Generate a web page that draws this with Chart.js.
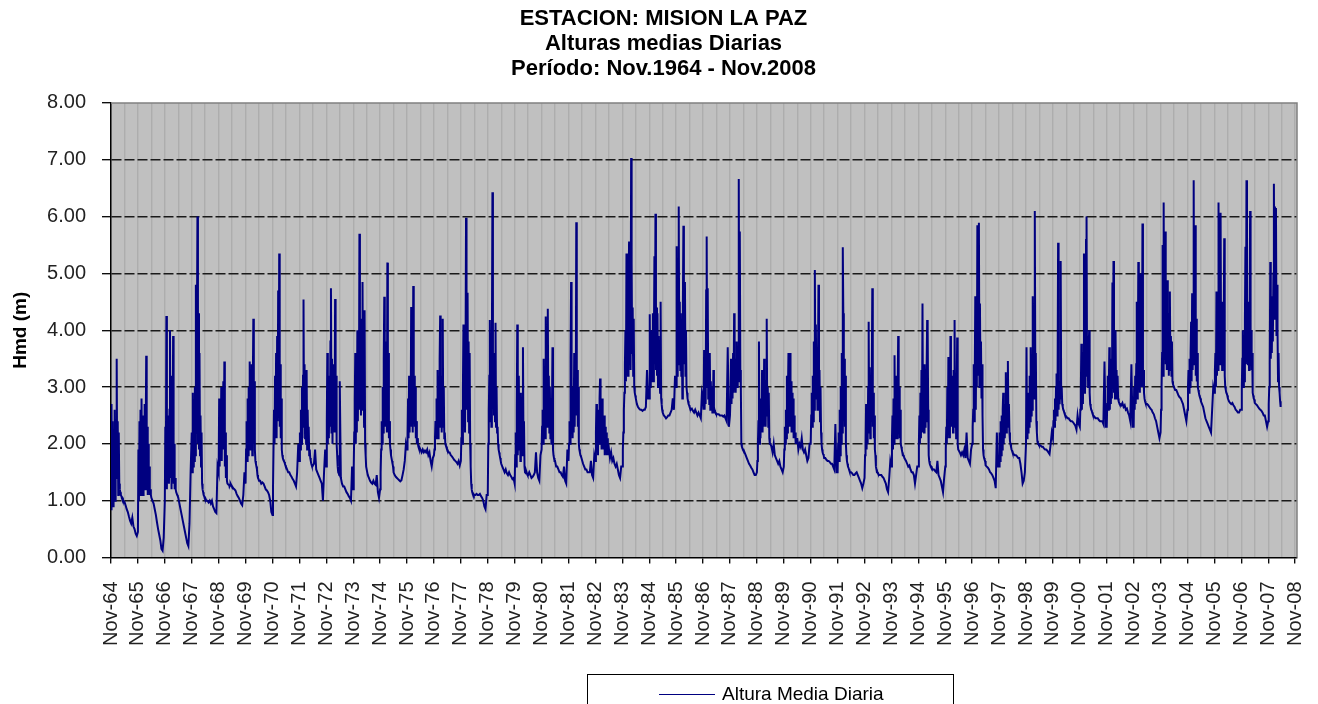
<!DOCTYPE html>
<html>
<head>
<meta charset="utf-8">
<title>Misión La Paz - Alturas medias diarias</title>
<script src="https://cdn.jsdelivr.net/npm/chart.js@4/dist/chart.umd.min.js"></script>
<style>
  html, body { margin: 0; padding: 0; background: #fff; }
  canvas { display: block; }
</style>
</head>
<body>
<canvas id="chart" width="1318" height="704"></canvas>
<script>
// Mean stage (m) at Misión La Paz, one array per hydrological year (from 1 November).
// The first 26 values are weekly readings for the flood season (Nov-Apr),
// the remaining 12 are half-monthly readings for the dry season (May-Oct).
const y1964 = [0.85, 2.7, 1.1, 2.4, 0.9, 2.2, 1.3, 2.6, 1.0, 2.0, 1.5, 3.5, 1.4, 2.4, 1.1, 2.2, 1.3, 1.2, 1.15, 1.1, 1.08, 1.05, 1.05, 1.02, 1.0, 0.99,
               0.98, 0.92, 0.85, 0.8, 0.72, 0.65, 0.6, 0.7, 0.55, 0.5, 0.42, 0.38];
const y1965 = [0.45, 1.9, 1.0, 2.4, 1.2, 2.6, 1.1, 2.8, 1.3, 2.2, 1.1, 2.5, 1.4, 2.7, 1.2, 2.0, 3.55, 1.3, 2.3, 1.1, 2.0, 1.2, 1.6, 1.1, 1.2, 1.1,
               1.05, 1.0, 0.95, 0.85, 0.75, 0.62, 0.5, 0.4, 0.3, 0.15, 0.12, 0.35];
const y1966 = [1.0, 2.3, 1.4, 4.25, 1.2, 2.5, 1.5, 2.2, 1.3, 2.6, 4.0, 1.4, 2.4, 1.2, 3.2, 1.5, 3.9, 1.3, 2.0, 1.2, 1.4, 1.2, 1.15, 1.15, 1.1, 1.08,
               1.05, 0.95, 0.85, 0.75, 0.65, 0.55, 0.45, 0.35, 0.25, 0.2, 0.6, 1.5];
const y1967 = [2.2, 1.5, 2.9, 1.6, 2.7, 1.7, 3.0, 1.8, 4.8, 2.2, 4.0, 6.0, 2.0, 4.3, 1.9, 3.6, 1.8, 2.5, 1.6, 2.2, 1.3, 1.2, 1.15, 1.1, 1.08, 1.05,
               1.05, 1.0, 1.0, 0.97, 1.0, 0.95, 1.0, 0.9, 0.85, 0.8, 0.78, 1.6];
const y1968 = [1.5, 2.8, 1.6, 2.5, 1.8, 3.0, 1.7, 2.6, 2.0, 3.1, 1.9, 3.45, 1.6, 2.2, 1.4, 1.8, 1.35, 1.3, 1.3, 1.28, 1.3, 1.25, 1.27, 1.3, 1.28, 1.26,
               1.25, 1.22, 1.2, 1.18, 1.12, 1.08, 1.05, 1.0, 0.95, 0.92, 1.1, 1.5];
const y1969 = [1.3, 1.9, 2.4, 1.7, 2.8, 1.8, 3.0, 2.0, 3.45, 1.9, 2.8, 2.1, 3.4, 1.8, 3.0, 4.2, 2.2, 3.1, 1.9, 1.7, 1.65, 1.6, 1.55, 1.45, 1.4, 1.38,
               1.35, 1.35, 1.3, 1.32, 1.3, 1.25, 1.2, 1.18, 1.15, 1.1, 1.0, 0.8];
const y1970 = [0.75, 1.2, 1.9, 2.6, 2.0, 3.2, 2.2, 3.6, 2.1, 3.9, 2.4, 4.7, 2.6, 5.35, 2.3, 3.4, 2.1, 2.8, 1.9, 1.8, 1.75, 1.72, 1.7, 1.68, 1.65, 1.62,
               1.6, 1.55, 1.5, 1.5, 1.45, 1.42, 1.38, 1.35, 1.3, 1.25, 1.5, 2.0];
const y1971 = [1.7, 2.2, 1.9, 2.6, 2.0, 3.0, 2.1, 3.2, 4.54, 2.3, 3.4, 2.1, 2.9, 2.0, 3.3, 1.9, 2.6, 2.0, 2.3, 1.8, 1.9, 1.75, 1.7, 1.65, 1.62, 1.6,
               1.6, 1.65, 1.9, 1.55, 1.5, 1.45, 1.4, 1.35, 1.3, 1.0, 1.5, 1.9];
const y1972 = [1.6, 2.4, 3.6, 2.0, 3.2, 2.1, 3.0, 2.3, 3.8, 4.74, 2.2, 3.5, 2.0, 3.4, 2.3, 3.0, 2.2, 4.55, 2.4, 3.2, 2.0, 1.8, 1.6, 1.5, 1.48, 1.45,
               3.1, 1.4, 1.3, 1.25, 1.25, 1.2, 1.15, 1.12, 1.08, 1.05, 1.0, 1.6];
const y1973 = [1.2, 1.6, 2.2, 2.8, 3.6, 2.0, 3.3, 2.2, 4.0, 2.4, 3.5, 2.6, 5.7, 3.0, 4.2, 2.5, 3.6, 2.8, 4.85, 2.6, 3.4, 2.3, 4.35, 2.0, 1.8, 1.6,
               1.6, 1.45, 1.4, 1.35, 1.32, 1.3, 1.35, 1.3, 1.28, 1.45, 1.15, 1.05];
const y1974 = [1.2, 1.5, 1.9, 2.4, 2.0, 3.0, 2.2, 3.5, 4.59, 2.3, 3.8, 2.4, 3.4, 2.2, 5.19, 2.6, 3.6, 2.1, 2.4, 2.0, 1.9, 1.8, 1.75, 1.7, 1.65, 1.6,
               1.5, 1.45, 1.42, 1.4, 1.38, 1.36, 1.34, 1.36, 1.45, 1.55, 1.7, 2.0];
const y1975 = [1.9, 2.1, 2.8, 2.1, 3.2, 2.2, 3.0, 2.4, 4.41, 2.3, 3.5, 2.2, 4.78, 2.5, 3.2, 2.3, 3.0, 2.1, 2.4, 2.0, 2.1, 2.0, 1.95, 1.92, 1.9, 1.92,
               1.9, 1.85, 1.9, 1.85, 1.88, 1.85, 1.9, 1.8, 1.85, 1.7, 1.6, 1.75];
const y1976 = [1.8, 1.9, 2.1, 2.4, 2.1, 2.8, 2.2, 3.3, 2.1, 3.0, 2.3, 3.5, 4.26, 2.4, 3.2, 2.2, 2.8, 4.2, 2.3, 3.0, 2.1, 2.2, 2.0, 1.97, 1.95, 1.92,
               1.9, 1.85, 1.85, 1.8, 1.78, 1.75, 1.72, 1.7, 1.68, 1.65, 1.7, 1.62];
const y1977 = [1.7, 2.1, 2.6, 2.0, 3.0, 4.1, 2.3, 3.6, 2.2, 3.3, 5.98, 2.6, 3.5, 4.66, 2.4, 3.8, 2.2, 3.6, 2.0, 1.6, 1.3, 1.2, 1.15, 1.12, 1.12, 1.1,
               1.1, 1.1, 1.12, 1.1, 1.1, 1.12, 1.08, 1.05, 1.0, 0.9, 0.85, 1.1];
const y1978 = [1.1, 2.0, 2.6, 3.2, 4.18, 2.4, 3.5, 2.3, 3.8, 6.43, 3.0, 3.6, 2.5, 3.4, 2.4, 4.13, 2.3, 3.0, 2.2, 2.3, 2.0, 1.9, 1.85, 1.8, 1.75, 1.7,
               1.65, 1.6, 1.55, 1.5, 1.55, 1.48, 1.45, 1.5, 1.45, 1.42, 1.38, 1.4];
const y1979 = [1.3, 1.8, 2.2, 1.6, 2.6, 4.1, 1.8, 2.5, 3.2, 1.9, 2.8, 1.7, 2.9, 1.9, 2.6, 1.8, 3.7, 2.0, 2.4, 1.6, 1.5, 1.5, 1.48, 1.5, 1.47, 1.45,
               1.45, 1.5, 1.45, 1.4, 1.42, 1.45, 1.5, 1.85, 1.5, 1.4, 1.35, 1.8];
const y1980 = [1.9, 2.3, 2.6, 2.0, 3.5, 2.2, 3.0, 2.1, 4.24, 2.5, 3.4, 2.3, 4.38, 2.5, 3.2, 2.2, 3.0, 2.1, 2.8, 2.0, 2.6, 3.7, 1.9, 1.8, 1.75, 1.7,
               1.7, 1.6, 1.6, 1.55, 1.5, 1.5, 1.45, 1.42, 1.6, 1.35, 1.3, 1.9];
const y1981 = [1.7, 2.0, 2.4, 2.0, 3.5, 4.85, 2.2, 3.0, 2.1, 2.8, 2.2, 3.6, 2.3, 3.2, 2.5, 5.9, 2.6, 3.3, 2.3, 3.0, 2.0, 1.9, 1.85, 1.8, 1.78, 1.75,
               1.75, 1.65, 1.6, 1.55, 1.55, 1.5, 1.5, 1.5, 1.7, 1.45, 1.4, 1.8];
const y1982 = [1.7, 2.2, 2.7, 1.9, 2.4, 1.8, 2.6, 2.0, 2.8, 3.15, 2.0, 2.6, 1.9, 2.8, 2.0, 2.4, 1.9, 2.5, 1.8, 2.3, 1.9, 2.2, 1.8, 2.1, 1.8, 2.0,
               2.0, 1.75, 1.85, 1.7, 1.75, 1.65, 1.6, 1.65, 1.55, 1.45, 1.4, 1.6];
const y1983 = [1.6, 1.9, 2.2, 2.6, 2.9, 3.4, 4.0, 3.1, 5.35, 3.5, 4.4, 3.2, 4.6, 5.56, 3.4, 4.5, 3.3, 7.03, 5.18, 3.6, 4.4, 3.2, 4.2, 3.0, 2.9, 2.85,
               2.8, 2.7, 2.65, 2.62, 2.6, 2.6, 2.58, 2.6, 2.6, 2.65, 3.3, 2.8];
const y1984 = [2.8, 4.28, 3.0, 3.6, 3.1, 4.0, 3.2, 4.3, 3.1, 3.8, 5.3, 3.4, 6.05, 3.3, 4.4, 3.2, 4.3, 3.0, 3.9, 3.0, 3.2, 2.9, 4.5, 2.8, 2.7, 2.6,
               2.55, 2.5, 2.48, 2.45, 2.47, 2.5, 2.5, 2.55, 2.6, 2.8, 2.6, 3.2];
const y1985 = [3.0, 5.48, 3.2, 4.2, 3.4, 6.18, 3.5, 4.5, 3.3, 4.3, 3.2, 4.0, 2.8, 4.4, 5.84, 3.4, 4.6, 4.85, 3.2, 4.0, 3.0, 2.9, 2.8, 2.75, 2.7, 2.68,
               2.65, 2.6, 2.62, 2.58, 2.55, 2.6, 2.55, 2.5, 2.55, 2.5, 2.45, 2.9];
const y1986 = [2.8, 2.6, 3.65, 2.6, 3.2, 2.7, 4.7, 5.65, 3.0, 4.74, 2.8, 3.4, 2.7, 3.6, 2.6, 3.1, 2.6, 3.0, 2.55, 2.6, 3.3, 2.55, 2.6, 2.55, 2.55, 2.53,
               2.53, 2.52, 2.52, 2.5, 2.5, 2.5, 2.48, 2.5, 2.45, 2.4, 3.7, 2.3];
const y1987 = [2.5, 2.8, 3.5, 2.7, 3.3, 2.8, 3.6, 2.9, 4.3, 3.0, 3.5, 2.9, 3.3, 3.8, 3.0, 3.6, 3.1, 6.66, 3.2, 5.74, 3.3, 3.0, 2.0, 1.95, 1.92, 1.9,
               1.9, 1.85, 1.8, 1.75, 1.7, 1.65, 1.62, 1.58, 1.55, 1.5, 1.45, 1.45];
const y1988 = [1.5, 1.7, 2.0, 2.4, 3.8, 2.0, 2.6, 2.1, 2.8, 2.2, 3.3, 2.2, 3.0, 2.3, 3.5, 2.4, 2.8, 2.3, 3.1, 4.2, 2.5, 3.0, 2.3, 2.9, 2.1, 2.0,
               2.0, 1.95, 1.85, 2.0, 1.8, 1.75, 1.7, 1.65, 1.7, 1.6, 1.55, 1.5];
const y1989 = [1.6, 1.9, 2.3, 2.0, 2.6, 2.1, 3.2, 2.2, 2.9, 3.6, 2.3, 2.8, 3.6, 2.3, 3.1, 2.2, 2.9, 2.2, 2.8, 2.1, 2.5, 2.1, 2.2, 2.0, 2.05, 2.0,
               2.1, 1.9, 2.0, 1.95, 2.1, 1.9, 1.85, 1.9, 1.8, 1.7, 1.75, 2.0];
const y1990 = [2.0, 2.5, 2.9, 2.3, 3.2, 2.4, 3.8, 2.6, 5.06, 3.0, 4.1, 2.8, 3.6, 2.6, 3.4, 4.8, 2.7, 3.3, 2.4, 3.0, 2.2, 2.0, 1.9, 1.85, 1.82, 1.8,
               1.75, 1.75, 1.72, 1.7, 1.7, 1.68, 1.65, 1.65, 1.6, 1.55, 2.35, 1.5];
const y1991 = [1.5, 2.0, 2.2, 1.7, 2.6, 1.8, 3.0, 2.0, 3.6, 2.2, 5.46, 4.3, 2.4, 3.5, 2.3, 3.2, 2.0, 1.8, 1.7, 1.65, 1.6, 1.58, 1.55, 1.52, 1.5, 1.5,
               1.5, 1.48, 1.45, 1.45, 1.48, 1.5, 1.45, 1.4, 1.35, 1.3, 1.22, 1.3];
const y1992 = [1.4, 1.8, 2.0, 2.7, 1.9, 2.6, 2.0, 3.0, 4.15, 2.2, 3.35, 2.1, 3.0, 2.4, 3.2, 4.74, 2.3, 2.9, 2.1, 2.5, 1.9, 1.8, 1.6, 1.55, 1.5, 1.5,
               1.48, 1.45, 1.45, 1.45, 1.42, 1.4, 1.35, 1.3, 1.2, 1.15, 1.4, 1.7];
const y1993 = [1.6, 2.1, 2.5, 1.9, 2.8, 2.0, 3.56, 2.1, 3.0, 2.2, 3.2, 2.1, 2.9, 3.9, 2.2, 3.0, 2.1, 2.6, 2.0, 1.95, 1.9, 1.85, 1.8, 1.8, 1.78, 1.75,
               1.75, 1.7, 1.65, 1.6, 1.62, 1.55, 1.5, 1.5, 1.45, 1.3, 1.45, 1.6];
const y1994 = [1.6, 2.0, 2.5, 2.0, 2.9, 2.1, 3.3, 2.2, 4.47, 2.3, 3.2, 2.2, 3.4, 2.3, 3.1, 2.4, 3.3, 4.18, 4.0, 2.6, 1.8, 1.7, 1.65, 1.62, 1.6, 1.6,
               1.58, 1.55, 1.55, 1.52, 1.5, 1.7, 1.45, 1.4, 1.35, 1.25, 1.15, 1.4];
const y1995 = [1.6, 1.9, 2.3, 2.0, 3.0, 2.1, 3.53, 2.2, 2.9, 2.1, 3.9, 2.4, 3.2, 2.3, 3.0, 2.2, 3.3, 2.4, 4.18, 2.3, 3.2, 2.1, 2.8, 3.87, 2.0, 1.9,
               1.9, 1.85, 1.8, 1.85, 1.8, 1.9, 1.75, 2.2, 1.75, 1.7, 1.65, 1.9];
const y1996 = [2.0, 2.3, 2.6, 3.4, 2.4, 3.2, 4.6, 2.6, 3.8, 3.0, 5.85, 3.2, 4.0, 5.89, 3.0, 4.47, 3.2, 3.8, 2.8, 3.4, 2.5, 1.9, 1.8, 1.75, 1.72, 1.7,
               1.62, 1.6, 1.58, 1.55, 1.5, 1.48, 1.45, 1.4, 1.35, 1.22, 2.2, 1.6];
const y1997 = [1.6, 2.2, 1.7, 2.4, 1.8, 2.5, 1.9, 2.6, 2.9, 2.0, 2.7, 2.1, 2.5, 3.26, 2.2, 2.8, 2.3, 3.46, 2.4, 2.7, 2.2, 2.05, 2.0, 1.95, 1.9, 1.88,
               1.85, 1.82, 1.8, 1.8, 1.78, 1.75, 1.75, 1.65, 1.5, 1.3, 1.35, 1.5];
const y1998 = [2.0, 3.7, 2.1, 2.6, 2.2, 2.9, 2.3, 3.2, 2.4, 3.7, 2.5, 3.4, 2.6, 4.6, 3.0, 3.5, 2.8, 6.1, 3.2, 3.6, 2.4, 2.2, 2.05, 2.0, 2.0, 1.98,
               1.98, 1.97, 1.95, 1.95, 1.92, 1.9, 1.9, 1.88, 1.85, 1.82, 2.0, 2.2];
const y1999 = [2.1, 2.4, 2.6, 2.3, 2.8, 2.4, 3.0, 3.24, 2.5, 3.0, 5.54, 2.6, 3.1, 2.7, 3.0, 5.22, 2.8, 3.0, 2.7, 2.65, 2.6, 2.58, 2.55, 2.52, 2.5, 2.5,
               2.48, 2.45, 2.45, 2.42, 2.4, 2.4, 2.38, 2.35, 2.32, 2.25, 2.5, 2.35];
const y2000 = [2.3, 2.6, 3.0, 3.76, 2.6, 3.4, 2.7, 3.6, 5.35, 2.9, 3.8, 3.0, 5.59, 6.0, 3.2, 3.9, 3.0, 3.6, 4.0, 2.9, 2.7, 2.65, 2.6, 2.58, 2.55, 2.52,
               2.5, 2.48, 2.45, 2.45, 2.45, 2.42, 2.4, 2.4, 2.4, 2.35, 3.45, 2.3];
const y2001 = [2.3, 2.7, 3.2, 2.6, 3.0, 3.7, 2.6, 3.2, 2.7, 3.5, 2.8, 4.84, 3.0, 5.22, 2.9, 3.4, 2.8, 4.0, 2.9, 3.3, 2.8, 3.2, 2.8, 2.75, 2.72, 2.7,
               2.7, 2.68, 2.72, 2.65, 2.68, 2.6, 2.62, 2.55, 2.5, 2.4, 3.4, 2.3];
const y2002 = [2.3, 3.0, 2.6, 3.2, 2.7, 3.4, 4.5, 2.8, 3.3, 5.2, 3.0, 3.5, 2.9, 5.0, 3.2, 3.6, 3.0, 5.88, 3.1, 3.3, 2.9, 2.8, 2.75, 2.72, 2.7, 2.7,
               2.7, 2.68, 2.65, 2.62, 2.6, 2.55, 2.52, 2.45, 2.4, 2.3, 2.2, 2.1];
const y2003 = [2.2, 2.6, 3.0, 3.6, 5.5, 3.2, 6.25, 3.5, 4.4, 5.74, 3.4, 4.2, 3.3, 4.88, 3.4, 4.3, 3.2, 4.0, 4.68, 3.3, 3.9, 3.2, 3.8, 3.1, 3.05, 3.02,
               3.0, 2.95, 2.95, 2.9, 2.85, 2.82, 2.8, 2.75, 2.7, 2.6, 2.5, 2.4];
const y2004 = [2.6, 3.0, 3.3, 2.9, 3.5, 3.0, 3.6, 4.15, 3.1, 4.65, 3.3, 3.8, 6.64, 3.4, 3.9, 5.85, 3.2, 4.2, 3.1, 3.6, 3.0, 2.95, 2.9, 2.85, 2.82, 2.8,
               2.75, 2.7, 2.65, 2.55, 2.45, 2.4, 2.35, 2.3, 2.25, 2.2, 2.6, 3.0];
const y2005 = [2.9, 3.3, 3.6, 3.0, 4.68, 3.2, 4.0, 3.3, 6.25, 3.6, 4.3, 3.4, 6.07, 3.5, 4.2, 3.3, 4.5, 3.4, 4.0, 5.62, 3.2, 3.0, 2.95, 2.9, 2.88, 2.85,
               2.8, 2.75, 2.72, 2.7, 2.72, 2.68, 2.65, 2.6, 2.58, 2.55, 2.55, 2.6];
const y2006 = [2.6, 3.0, 3.5, 4.0, 3.0, 3.6, 3.1, 4.2, 5.47, 3.4, 6.64, 3.5, 4.3, 3.4, 4.5, 3.3, 4.1, 6.1, 3.4, 4.0, 3.3, 3.6, 2.9, 2.85, 2.8, 2.78,
               2.72, 2.7, 2.68, 2.65, 2.62, 2.6, 2.58, 2.55, 2.5, 2.5, 2.4, 2.3];
const y2007 = [2.4, 2.7, 3.0, 3.4, 5.2, 3.5, 4.6, 3.6, 4.5, 3.8, 5.0, 6.58, 4.2, 6.18, 4.4, 6.15, 3.9, 4.8, 4.0, 3.1, 3.6, 3.0, 2.9, 2.75, 2.65];

const hydroYears = [
  y1964, y1965, y1966, y1967, y1968, y1969, y1970, y1971, y1972, y1973,
  y1974, y1975, y1976, y1977, y1978, y1979, y1980, y1981, y1982, y1983,
  y1984, y1985, y1986, y1987, y1988, y1989, y1990, y1991, y1992, y1993,
  y1994, y1995, y1996, y1997, y1998, y1999, y2000, y2001, y2002, y2003,
  y2004, y2005, y2006, y2007
];
const floodWeeks = 26;      // weekly values, Nov-Apr
const dryHalfMonths = 12;   // half-monthly values, May-Oct

// x-axis labels, one per November
const tickLabels = [
  'Nov-64', 'Nov-65', 'Nov-66', 'Nov-67', 'Nov-68', 'Nov-69', 'Nov-70', 'Nov-71', 'Nov-72',
  'Nov-73', 'Nov-74', 'Nov-75', 'Nov-76', 'Nov-77', 'Nov-78', 'Nov-79', 'Nov-80', 'Nov-81',
  'Nov-82', 'Nov-83', 'Nov-84', 'Nov-85', 'Nov-86', 'Nov-87', 'Nov-88', 'Nov-89', 'Nov-90',
  'Nov-91', 'Nov-92', 'Nov-93', 'Nov-94', 'Nov-95', 'Nov-96', 'Nov-97', 'Nov-98', 'Nov-99',
  'Nov-00', 'Nov-01', 'Nov-02', 'Nov-03', 'Nov-04', 'Nov-05', 'Nov-06', 'Nov-07', 'Nov-08'
];

const titleLines = ['ESTACION: MISION LA PAZ', 'Alturas medias Diarias', 'Período: Nov.1964 - Nov.2008'];
const seriesLabel = 'Altura Media Diaria';
const yAxisTitle = 'Hmd (m)';

// x = years elapsed since 1 Nov 1964
const points = [];
hydroYears.forEach((vals, k) => {
  vals.forEach((v, i) => {
    const x = i < floodWeeks ? k + i / (2 * floodWeeks) : k + 0.5 + (i - floodWeeks) / (2 * dryHalfMonths);
    points.push({ x, y: v });
  });
});

const FONT = '"Liberation Sans", Arial, sans-serif';

// grey plot area with a grey frame on top and right
const plotFrame = {
  id: 'plotFrame',
  beforeDraw(chart) {
    const { ctx, chartArea: a } = chart;
    ctx.save();
    ctx.fillStyle = '#C0C0C0';
    ctx.fillRect(a.left, a.top, a.right - a.left, a.bottom - a.top);
    ctx.restore();
  },
  beforeDatasetsDraw(chart) {
    const { ctx, chartArea: a } = chart;
    ctx.save();
    ctx.strokeStyle = '#808080';
    ctx.lineWidth = 1.5;
    ctx.beginPath();
    ctx.moveTo(a.left, a.top);
    ctx.lineTo(a.right, a.top);
    ctx.lineTo(a.right, a.bottom);
    ctx.stroke();
    ctx.restore();
  }
};

// boxed legend below the axis
const boxedLegend = {
  id: 'boxedLegend',
  afterDraw(chart, args, o) {
    const { ctx } = chart;
    const ds = chart.data.datasets[0];
    ctx.save();
    ctx.strokeStyle = '#000';
    ctx.lineWidth = 1;
    ctx.strokeRect(o.left + 0.5, o.top + 0.5, o.width, o.height);
    ctx.strokeStyle = ds.borderColor;
    ctx.lineWidth = 1.2;
    ctx.beginPath();
    ctx.moveTo(o.left + 72, o.top + 20.5);
    ctx.lineTo(o.left + 128, o.top + 20.5);
    ctx.stroke();
    ctx.fillStyle = '#000';
    ctx.font = '19px ' + FONT;
    ctx.textBaseline = 'middle';
    ctx.textAlign = 'left';
    ctx.fillText(ds.label, o.left + 135, o.top + 21);
    ctx.restore();
  }
};

new Chart(document.getElementById('chart'), {
  type: 'line',
  data: {
    datasets: [{
      label: seriesLabel,
      data: points,
      borderColor: '#000080',
      borderWidth: 2,
      pointRadius: 0,
      tension: 0,
      fill: false
    }]
  },
  options: {
    responsive: false,
    animation: false,
    parsing: false,
    normalized: true,
    layout: { padding: { left: 9, right: 0, top: 0, bottom: 58 } },
    plugins: {
      legend: { display: false },
      tooltip: { enabled: false },
      title: {
        display: true,
        text: titleLines,
        color: '#000',
        font: { family: FONT, size: 22, weight: 'bold', lineHeight: 1.136 },
        padding: { top: 6, bottom: 22 }
      },
      boxedLegend: { left: 587, top: 674, width: 366, height: 40 }
    },
    scales: {
      x: {
        type: 'linear',
        min: 0,
        max: 44.07,
        afterBuildTicks(scale) {
          const t = [];
          for (let v = 0; v <= tickLabels.length - 1; v += 0.5) t.push({ value: v });
          scale.ticks = t;
        },
        afterFit(scale) {
          scale.height = 88.5;
          scale.paddingRight = 21;
        },
        border: { display: true, color: '#000', width: 1.5 },
        grid: {
          color: '#ADADAD',
          lineWidth: 1.4,
          drawTicks: true,
          tickLength: 6,
          tickWidth: 1.3,
          tickColor: (c) => (c.tick && Number.isInteger(c.tick.value)) ? '#000' : 'rgba(0,0,0,0)'
        },
        ticks: {
          autoSkip: false,
          minRotation: 90,
          maxRotation: 90,
          padding: 18,
          color: '#222',
          font: { family: FONT, size: 20 },
          callback: (v) => Number.isInteger(v) ? tickLabels[v] : ''
        }
      },
      y: {
        min: 0,
        max: 8,
        afterFit(scale) { scale.width = 102; },
        border: { display: true, color: '#000', width: 1.5, dash: [10, 3] },
        grid: {
          color: (c) => (c.tick && c.tick.value > 0 && c.tick.value < 8) ? '#1a1a1a' : 'rgba(0,0,0,0)',
          lineWidth: 1.4,
          tickLength: 9,
          tickWidth: 1.3,
          tickColor: '#000'
        },
        ticks: {
          stepSize: 1,
          padding: 16,
          color: '#222',
          font: { family: FONT, size: 20 },
          callback: (v) => v.toFixed(2)
        },
        title: {
          display: true,
          text: yAxisTitle,
          color: '#000',
          font: { family: FONT, size: 19, weight: 'bold' },
          padding: { top: 0, bottom: 1 }
        }
      }
    }
  },
  plugins: [plotFrame, boxedLegend]
});
</script>
</body>
</html>
